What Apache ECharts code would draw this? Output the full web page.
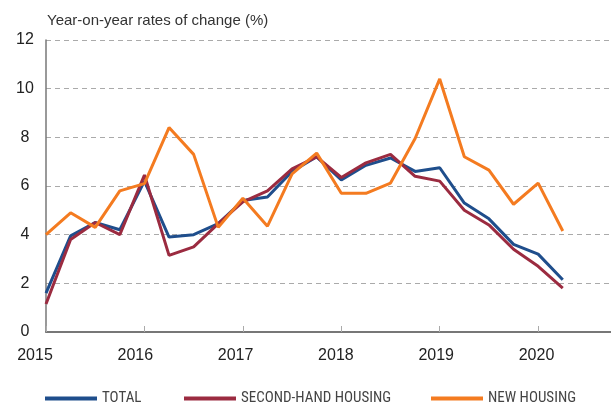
<!DOCTYPE html>
<html>
<head>
<meta charset="utf-8">
<script src="https://cdn.jsdelivr.net/npm/echarts@6/dist/echarts.min.js"></script>
<style>
  html, body { margin: 0; padding: 0; background: #fff; }
  #main { width: 611px; height: 409px; }
</style>
</head>
<body>
<div id="main"></div>
<script>
    // quarterly points, Q1 2015 .. Q2 2020
    var startYear = 2015;
    var total = [1.6, 3.95, 4.5, 4.2, 6.2, 3.9, 4.0, 4.45, 5.4, 5.55, 6.6, 7.2, 6.25, 6.85, 7.15, 6.6, 6.75, 5.3, 4.65, 3.6, 3.2, 2.15];
    var secondHand = [1.15, 3.8, 4.5, 4.0, 6.45, 3.15, 3.5, 4.45, 5.35, 5.8, 6.7, 7.2, 6.35, 6.95, 7.3, 6.4, 6.2, 5.0, 4.4, 3.4, 2.7, 1.8];
    var newHousing = [4.0, 4.9, 4.3, 5.8, 6.1, 8.4, 7.3, 4.3, 5.5, 4.35, 6.5, 7.35, 5.7, 5.7, 6.12, 7.95, 10.4, 7.2, 6.65, 5.25, 6.12, 4.15];
    var seriesNames = ['TOTAL', 'SECOND-HAND HOUSING', 'NEW HOUSING'];

    function toPoints(arr) {
        return arr.map(function (v, i) { return [startYear + i * 0.25, v]; });
    }

    var legendFont = {
        fontFamily: 'Roboto Condensed, DejaVu Sans Condensed, sans-serif',
        fontSize: 15,
        color: '#444',
        padding: [8, 0, 0, 0]
    };
    function legendAt(name, left) {
        return {
            left: left,
            top: 391,
            padding: 0,
            itemWidth: 52,
            itemHeight: 4,
            itemGap: 0,
            icon: 'rect',
            textStyle: legendFont,
            data: [name]
        };
    }

    var myChart = echarts.init(document.getElementById('main'));

    var option = {
        animation: false,
        title: {
            text: 'Year-on-year rates of change (%)',
            left: 42,
            top: 8,
            textStyle: { fontFamily: 'Liberation Sans', fontSize: 15, fontWeight: 'normal', color: '#333' }
        },
        legend: [
            legendAt(seriesNames[0], 45),
            legendAt(seriesNames[1], 184),
            legendAt(seriesNames[2], 431)
        ],
        grid: [
            { left: 46, right: 0, top: 40, bottom: 77 },
            // labels sit on a slightly wider spacing than the ticks
            { left: 35, right: 74.5, top: 40, bottom: 77 }
        ],
        xAxis: [
            {
                type: 'value',
                min: 2015,
                max: 2020.74,
                interval: 1,
                axisLine: { lineStyle: { color: '#777', width: 2 } },
                axisTick: { show: true, inside: true, length: 6, lineStyle: { color: '#aaa' } },
                splitLine: { show: false },
                axisLabel: { show: false }
            },
            {
                gridIndex: 1,
                type: 'value',
                min: 2015,
                max: 2020,
                interval: 1,
                axisLine: { show: false },
                axisTick: { show: false },
                splitLine: { show: false },
                axisLabel: {
                    margin: 16,
                    fontFamily: 'Liberation Sans',
                    fontSize: 16,
                    color: '#222',
                    showMinLabel: true,
                    showMaxLabel: true,
                    formatter: function (v) { return String(v); }
                }
            }
        ],
        yAxis: [
            {
                type: 'value',
                min: 0,
                max: 12,
                interval: 2,
                axisLine: { show: true, lineStyle: { color: '#777', width: 1.5 } },
                axisTick: { show: false },
                splitLine: { lineStyle: { color: '#aaa', type: [5, 4], width: 1 } },
                axisLabel: { margin: 21, align: 'center', fontFamily: 'Liberation Sans', fontSize: 16, color: '#222' }
            },
            {
                gridIndex: 1,
                type: 'value',
                min: 0,
                max: 12,
                show: false
            }
        ],
        series: [
            {
                name: seriesNames[0],
                type: 'line',
                symbol: 'none',
                color: '#1f4e8c',
                lineStyle: { width: 3 },
                data: toPoints(total)
            },
            {
                name: seriesNames[1],
                type: 'line',
                symbol: 'none',
                color: '#9b2b40',
                lineStyle: { width: 3 },
                data: toPoints(secondHand)
            },
            {
                name: seriesNames[2],
                type: 'line',
                symbol: 'none',
                color: '#f47b20',
                lineStyle: { width: 3 },
                data: toPoints(newHousing)
            }
        ]
    };

    myChart.setOption(option);
</script>
</body>
</html>
